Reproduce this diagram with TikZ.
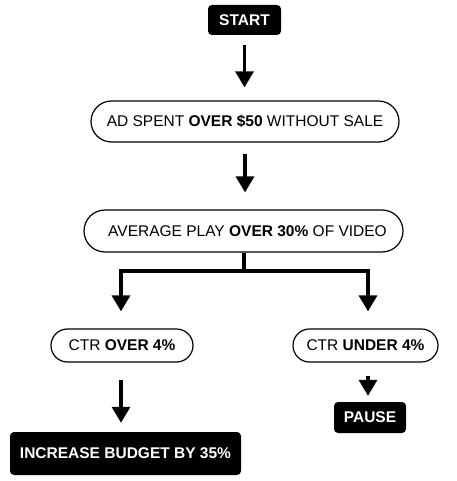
\documentclass[tikz,border=0pt]{standalone}
\usepackage{fontspec}
\setmainfont{Liberation Sans}
\usetikzlibrary{arrows.meta}
\begin{document}
\begin{tikzpicture}[x=1pt,y=-1pt,
  pill/.style={draw=black,line width=1.2pt,rounded corners=#1,inner sep=0pt,font=\fontsize{15.5}{18}\selectfont},
  blackbox/.style={fill=black,text=white,rounded corners=4pt,inner sep=0pt,font=\fontsize{15.5}{18}\selectfont\bfseries},
  flow/.style={line width=3.3pt,-{Triangle[width=18pt,length=16pt]}}]
\useasboundingbox (0,0) rectangle (456,481);
\node[blackbox,minimum width=73pt,minimum height=30pt] (start) at (244.5,20) {START};
\node[pill=20.5pt,minimum width=308pt,minimum height=41pt] (ad) at (245,121.5) {AD SPENT \textbf{OVER \$50} WITHOUT SALE};
\node[pill=21pt,minimum width=319pt,minimum height=42pt] (avg) at (243.5,231) {\hspace{8pt}AVERAGE PLAY \textbf{OVER 30\%} OF VIDEO};
\node[pill=16.5pt,minimum width=142pt,minimum height=33pt] (ctro) at (122,345.5) {CTR \textbf{OVER 4\%}};
\node[pill=16.5pt,minimum width=145pt,minimum height=33pt] (ctru) at (365.5,345.5) {CTR \textbf{UNDER 4\%}};
\node[blackbox,minimum width=231pt,minimum height=43pt] (inc) at (125.5,453.5) {INCREASE BUDGET BY 35\%};
\node[blackbox,minimum width=72pt,minimum height=31pt] (pause) at (370,417.5) {PAUSE};
\coordinate (jn) at (244,271);
\coordinate (jl) at (121,271);
\coordinate (jr) at (368,271);
\draw[flow,shorten <=10pt,shorten >=13pt] (start.south) -- (start.south |- ad.north);
\draw[flow,shorten <=11pt,shorten >=17pt] (ad.south) -- (ad.south |- avg.north);
\draw[line width=3.3pt] (avg.south -| jn) -- (jn);
\draw[flow,shorten >=17pt] (jl -| jn) -- (jl) -- (jl |- ctro.north);
\draw[flow,shorten >=17pt] (jn) -- (jr) -- (jr |- ctru.north);
\draw[flow,shorten <=17pt,shorten >=9pt] (ctro.south -| jl) -- (jl |- inc.north);
\draw[flow,shorten <=13pt,shorten >=6pt] (ctru.south -| jr) -- (jr |- pause.north);
\end{tikzpicture}
\end{document}
